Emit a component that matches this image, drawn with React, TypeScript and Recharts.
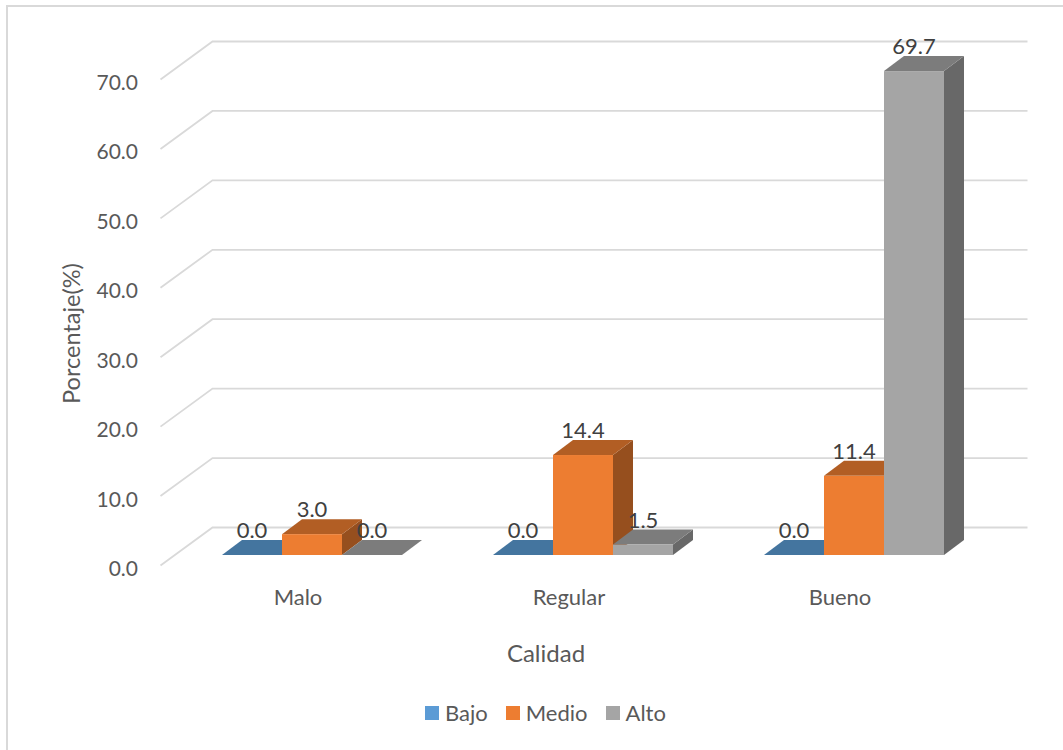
import React from 'react';
import { BarChart, Bar, XAxis, YAxis, CartesianGrid, LabelList, Legend } from 'recharts';

const categories = ['Malo', 'Regular', 'Bueno'];
const bajo = [0.0, 0.0, 0.0];
const medio = [3.0, 14.4, 11.4];
const alto = [0.0, 1.5, 69.7];
const yTicks = [0, 10, 20, 30, 40, 50, 60, 70];

const rows = categories.map((calidad, i) => ({
    calidad,
    Bajo: bajo[i],
    Medio: medio[i],
    Alto: alto[i],
}));

const FONT = 'Lato, sans-serif';
const TEXT = '#595959';
const GRID = '#D9D9D9';

// Oblique projection: wall depth, bar depth and how far bars sit into the floor
const WALL_DX = 52;
const WALL_DY = 38;
const BAR_DX = 20;
const BAR_DY = 15;
const INSET_DX = 14;
const INSET_DY = 10.5;

const SHADES: Record<string, { top: string; side: string }> = {
    '#5B9BD5': { top: '#44759F', side: '#396287' },
    '#ED7D31': { top: '#B25E24', side: '#964F1E' },
    '#A5A5A5': { top: '#7C7C7C', side: '#686868' },
};

const Bar3D = (props: any) => {
    const { x, y, width, height, fill } = props;
    const left = x + INSET_DX;
    const right = left + width;
    const top = y - INSET_DY;
    const bottom = top + height;
    const shade = SHADES[fill];
    return (
        <g>
            <polygon
                points={`${right},${bottom} ${right + BAR_DX},${bottom - BAR_DY} ${right + BAR_DX},${top - BAR_DY} ${right},${top}`}
                fill={shade.side}
            />
            <polygon
                points={`${left},${top} ${left + BAR_DX},${top - BAR_DY} ${right + BAR_DX},${top - BAR_DY} ${right},${top}`}
                fill={shade.top}
            />
            {height > 0 && <rect x={left} y={top} width={width} height={height} fill={fill} />}
        </g>
    );
};

const BarValue = (props: any) => {
    const { x, y, width, value } = props;
    return (
        <text
            x={x + width / 2 + INSET_DX}
            y={y - INSET_DY - 25.5}
            textAnchor="middle"
            dominantBaseline="central"
            fontFamily={FONT}
            fontSize={22}
            fill="#404040"
        >
            {Number(value).toFixed(1)}
        </text>
    );
};

// Each gridline runs up the side wall, then across the back wall
const WallLine = (props: any) => {
    const { x1, x2, y1, key } = props;
    return (
        <polyline
            key={key}
            points={`${x1 - 2},${y1} ${x1 + WALL_DX - 2},${y1 - WALL_DY} ${x2 + WALL_DX},${y1 - WALL_DY}`}
            fill="none"
            stroke={GRID}
            strokeWidth={1.8}
        />
    );
};

const LegendRow = ({ payload }: any) => (
    <div style={{ display: 'flex', fontFamily: FONT, fontSize: 22, color: TEXT, lineHeight: '24px' }}>
        {(payload || []).map((item: any) => (
            <div key={item.value} style={{ display: 'flex', alignItems: 'center', marginRight: 18 }}>
                <span style={{ width: 14, height: 14, background: item.color, marginRight: 6 }} />
                {item.value}
            </div>
        ))}
    </div>
);

export default function App() {
    return (
        <div style={{ position: 'absolute', left: 0, top: 0, width: 1063, height: 750, background: '#fff' }}>
            <div
                style={{
                    position: 'absolute',
                    left: 6,
                    top: 5,
                    width: 1057,
                    height: 745,
                    borderLeft: `2px solid ${GRID}`,
                    borderTop: `2px solid ${GRID}`,
                    boxSizing: 'border-box',
                }}
            />
            <BarChart
                width={1063}
                height={750}
                data={rows}
                margin={{ top: 79.5, right: 87.5, bottom: 0, left: 0 }}
                barCategoryGap={45.5}
                barGap={0}
                style={{ position: 'absolute', left: 0, top: 0 }}
            >
                <CartesianGrid vertical={false} horizontal={WallLine} />
                <XAxis
                    dataKey="calidad"
                    height={160.5}
                    axisLine={false}
                    tickLine={false}
                    tickSize={0}
                    tickMargin={24}
                    tick={{ fontFamily: FONT, fontSize: 22, fill: TEXT }}
                    label={{
                        value: 'Calidad',
                        position: 'insideTop',
                        dx: -23,
                        dy: 74,
                        style: { fontFamily: FONT, fontSize: 24, fill: TEXT },
                    }}
                />
                <YAxis
                    width={162.5}
                    domain={[0, 70]}
                    ticks={yTicks}
                    axisLine={false}
                    tickLine={false}
                    tickSize={0}
                    tickMargin={24.5}
                    tickFormatter={(v: number) => v.toFixed(1)}
                    tick={{ fontFamily: FONT, fontSize: 21, fill: TEXT, dy: 3 }}
                    label={{
                        value: 'Porcentaje(%)',
                        angle: -90,
                        position: 'insideLeft',
                        dx: 67,
                        dy: 11,
                        style: { fontFamily: FONT, fontSize: 23.5, fill: TEXT, textAnchor: 'middle' },
                    }}
                />
                <Legend
                    content={<LegendRow />}
                    itemSorter={null}
                    wrapperStyle={{ position: 'absolute', left: 425, top: 701, width: 'auto', bottom: 'auto' }}
                />
                <Bar dataKey="Bajo" fill="#5B9BD5" shape={Bar3D} isAnimationActive={false}>
                    <LabelList dataKey="Bajo" content={BarValue} />
                </Bar>
                <Bar dataKey="Medio" fill="#ED7D31" shape={Bar3D} isAnimationActive={false}>
                    <LabelList dataKey="Medio" content={BarValue} />
                </Bar>
                <Bar dataKey="Alto" fill="#A5A5A5" shape={Bar3D} isAnimationActive={false}>
                    <LabelList dataKey="Alto" content={BarValue} />
                </Bar>
            </BarChart>
        </div>
    );
}
